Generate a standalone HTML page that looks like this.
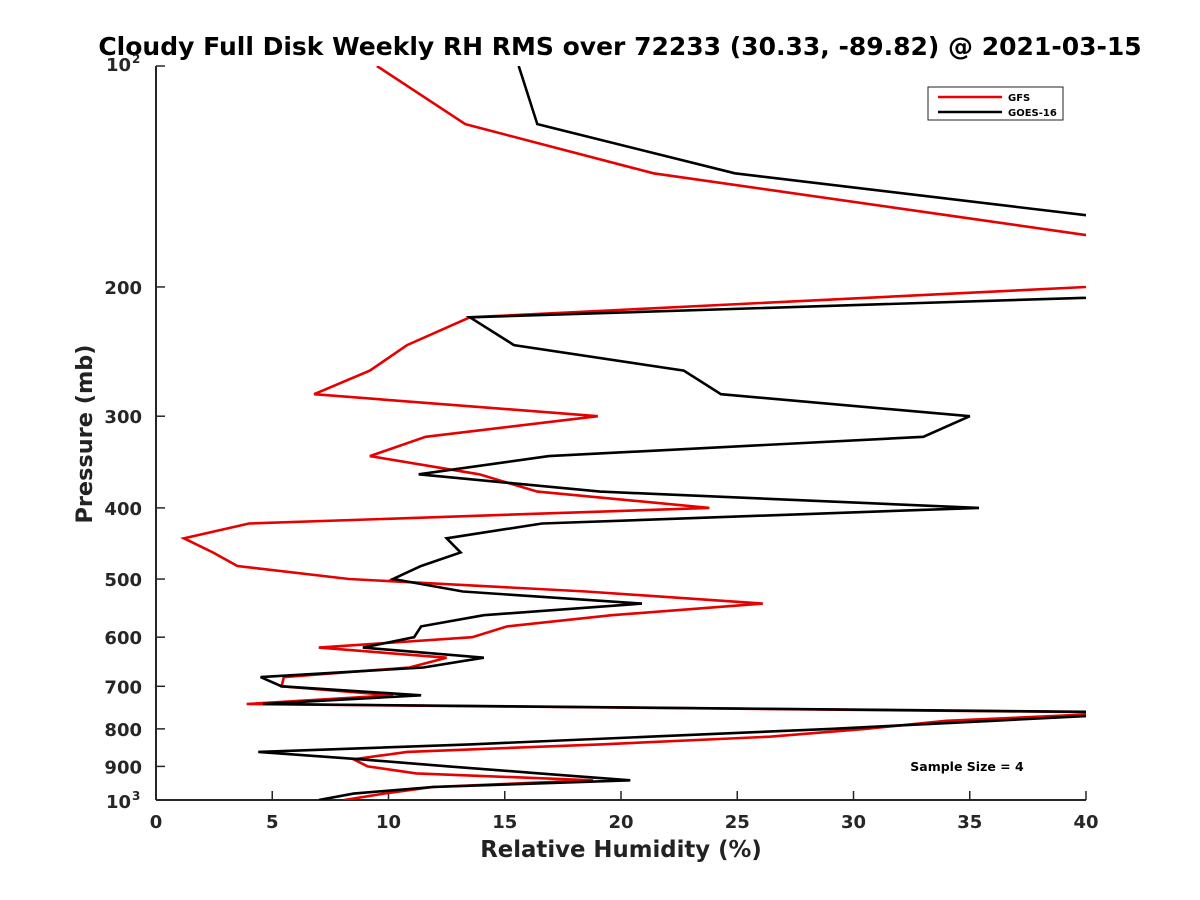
<!DOCTYPE html>
<html><head><meta charset="utf-8"><style>
body{margin:0;background:#fff;}
svg{display:block;font-family:"DejaVu Sans","Liberation Sans",sans-serif;font-weight:bold;}
</style></head><body>
<svg id="chart" width="1200" height="900" viewBox="0 0 1200 900">
<defs><clipPath id="plotclip"><rect x="156" y="66" width="930" height="734"/></clipPath></defs>
<text x="620" y="55" font-size="25" text-anchor="middle" fill="#000">Cloudy Full Disk Weekly RH RMS over 72233 (30.33, -89.82) @ 2021-03-15</text>
<g id="axes"></g>
<g id="series" clip-path="url(#plotclip)"></g>
<text x="621" y="857" font-size="22.8" text-anchor="middle" fill="#222">Relative Humidity (%)</text>
<text transform="translate(92,434) rotate(-90)" font-size="22.4" text-anchor="middle" fill="#222">Pressure (mb)</text>
<g>
<rect x="928" y="87" width="135" height="33" fill="#fff" stroke="#222" stroke-width="1"/>
<line x1="938" y1="97" x2="1002" y2="97" stroke="#e00" stroke-width="2.5"/>
<text x="1008" y="101" font-size="10">GFS</text>
<line x1="938" y1="112" x2="1002" y2="112" stroke="#000" stroke-width="2.5"/>
<text x="1008" y="116" font-size="10">GOES-16</text>
</g>
<text x="967" y="771" font-size="12.5" text-anchor="middle">Sample Size = 4</text>
</svg>
<script>
const pressures = [100,120,140,160,170,180,190,200,220,240,260,280,300,320,340,360,380,400,420,440,460,480,500,520,540,560,580,600,620,640,660,680,700,720,740,760,780,800,820,840,860,880,900,920,940,960,980,1000];
const gfsRH = [9.5,13.3,21.4,34.2,40,46,48,40,13.5,10.8,9.2,6.8,19.0,11.6,9.2,13.9,16.4,23.8,4.0,1.2,2.45,3.5,8.3,18.5,26.1,19.6,15.1,13.6,7.0,12.5,10.9,5.5,5.4,10.2,3.9,42,34,30.5,26.4,19.1,10.8,8.5,9.1,11.2,18.8,11.9,9.8,8.1];
const goesRH = [15.6,16.4,24.9,40.2,50,56,58,54.6,13.5,15.4,22.7,24.3,35.0,33.0,16.9,11.3,19.1,35.4,16.6,12.5,13.1,11.4,10.2,13.2,20.9,14.1,11.4,11.1,8.9,14.1,11.5,4.5,5.4,11.4,4.6,43,36,29.0,21.2,13.5,4.4,8.8,12.6,16.5,20.4,11.9,8.5,7.0];
const xTicks = [0,5,10,15,20,25,30,35,40];
const yTicks = [200,300,400,500,600,700,800,900];
const L=156,R=1086,T=66,B=800;
function xs(v){return L+(v/40)*(R-L);}
function ys(p){return T+(Math.log10(p)-2)*(B-T);}
const NS='http://www.w3.org/2000/svg';
const axes=document.getElementById('axes');
function mk(tag,attrs,parent){const e=document.createElementNS(NS,tag);for(const k in attrs)e.setAttribute(k,attrs[k]);parent.appendChild(e);return e;}
const xa=mk('line',{x1:L,y1:B,x2:R,y2:B,stroke:'#262626','stroke-width':2},axes);


const ya=mk('line',{x1:L,y1:T,x2:L,y2:B,stroke:'#262626','stroke-width':2},axes);


xTicks.forEach(v=>{
  const x=xs(v);
  mk('line',{x1:x,y1:B,x2:x,y2:B-9,stroke:'#262626','stroke-width':1.5},axes);
  const t=mk('text',{x:x,y:828,'font-size':18,'text-anchor':'middle',fill:'#262626'},axes);
  t.textContent=v;
  
  
});
yTicks.forEach(p=>{
  const y=ys(p);
  mk('line',{x1:L,y1:y,x2:L+9,y2:y,stroke:'#262626','stroke-width':1.5},axes);
  const t=mk('text',{x:142,y:y+7,'font-size':18,'text-anchor':'end',fill:'#262626'},axes);
  t.textContent=p;
  
  
});
[[100,'2'],[1000,'3']].forEach(([p,e])=>{
  const y=ys(p);
  mk('line',{x1:L,y1:y,x2:L+9,y2:y,stroke:'#262626','stroke-width':1.5},axes);
  const t=mk('text',{x:131,y:y+(p===100?5:8),'font-size':18,'text-anchor':'end',fill:'#262626'},axes);
  t.textContent='10';
  
  
  const s=mk('text',{x:132,y:y+(p===100?-3:0),'font-size':12,fill:'#262626'},axes);
  s.textContent=e;
});
const sg=document.getElementById('series');
function drawSeries(vals,color,name){
  const pts=vals.map((v,i)=>xs(v).toFixed(1)+','+ys(pressures[i]).toFixed(1)).join(' ');
  const pl=mk('polyline',{points:pts,fill:'none',stroke:color,'stroke-width':2.6,'stroke-linejoin':'miter'},sg);
  
  
}
drawSeries(gfsRH,'#e60000','gfs-line');
drawSeries(goesRH,'#000','goes-16-line');
</script>
</body></html>
